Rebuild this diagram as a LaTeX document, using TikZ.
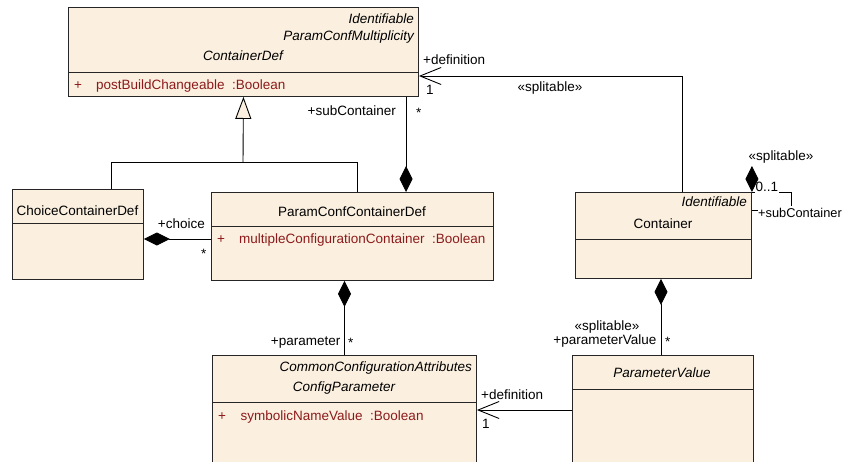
\documentclass[tikz,border=0pt]{standalone}
\usepackage{fontspec}
\setmainfont{Liberation Sans}
\usetikzlibrary{arrows.meta}
\definecolor{clsfill}{RGB}{251,240,224}
\definecolor{attrcol}{RGB}{140,26,26}
\begin{document}
\begin{tikzpicture}[x=1pt,y=-1pt,
  every node/.style={font=\fontsize{13.5}{16}\selectfont, inner sep=0pt},
  cls/.style={draw=black!85, fill=clsfill, line width=0.9pt, anchor=north west},
  lw/.style={draw=black!85, line width=0.9pt},
  conn/.style={draw=black, line width=0.9pt},
  comp/.style={conn, -{Diamond[length=26pt,width=13pt]}},
  assoc/.style={conn, -{Straight Barb[length=21pt,width=17pt,line width=0.9pt]}},
  gen/.style={conn, -{Triangle[length=22pt,width=16pt,fill=clsfill]}},
  attr/.style={text=attrcol},
  wl/.style={fill=white, inner xsep=0.5pt, inner ysep=1.5pt}
]
\useasboundingbox (0,0) rectangle (845,461);
\clip (0,0) rectangle (845,461);

% ---------- class boxes ----------
\node[cls, minimum width=350pt, minimum height=89pt] (cd) at (68,7) {};
\draw[lw] (cd.west |- 0,72) -- (cd.east |- 0,72);
\node[anchor=base east] (cdst1) at (414,23) {\itshape Identifiable};
\node[anchor=base east] (cdst2) at (414,40) {\itshape ParamConfMultiplicity};
\node[anchor=base] (cdname) at (243,60) {\itshape ContainerDef};
\node[anchor=base west, attr] (cdplus) at (74,89) {+};
\node[anchor=base west, attr] (cdattr) at (96,89) {postBuildChangeable~~:Boolean};

\node[cls, minimum width=131pt, minimum height=90pt] (ccd) at (12,189) {};
\draw[lw] (ccd.west |- 0,223) -- (ccd.east |- 0,223);
\node[anchor=base] (ccdname) at (77.5,215) {ChoiceContainerDef};

\node[cls, minimum width=282pt, minimum height=88pt] (pccd) at (211,192) {};
\draw[lw] (pccd.west |- 0,226) -- (pccd.east |- 0,226);
\node[anchor=base] (pccdname) at (352,216) {ParamConfContainerDef};
\node[anchor=base west, attr] (pccdplus) at (217,243) {+};
\node[anchor=base west, attr] (pccdattr) at (239,243) {multipleConfigurationContainer~~:Boolean};

\node[cls, minimum width=176pt, minimum height=86pt] (c) at (575,192) {};
\draw[lw] (c.west |- 0,239) -- (c.east |- 0,239);
\node[anchor=base east] (cst) at (747,206) {\itshape Identifiable};
\node[anchor=base] (cname) at (663,228) {Container};

\node[cls, minimum width=264pt, minimum height=120pt] (cp) at (212,355) {};
\draw[lw] (cp.west |- 0,402) -- (cp.east |- 0,402);
\node[anchor=base east] (cpst) at (472,371) {\itshape CommonConfigurationAttributes};
\node[anchor=base] (cpname) at (344,391) {\itshape ConfigParameter};
\node[anchor=base west, attr] (cpplus) at (218,420) {+};
\node[anchor=base west, attr] (cpattr) at (240.5,420) {symbolicNameValue~~:Boolean};

\node[cls, minimum width=181pt, minimum height=120pt] (pv) at (572,355) {};
\draw[lw] (pv.west |- 0,389) -- (pv.east |- 0,389);
\node[anchor=base] (pvname) at (662,377) {\itshape ParameterValue};

% ---------- generalization ----------
\coordinate (gL) at (111,162);
\coordinate (gR) at (357,162);
\coordinate (gM) at (243,162);
\draw[conn] (ccd.north -| gL) -- (gL) -- (gR) -- (pccd.north -| gR);
\draw[gen] (gM) -- (cd.south);

% ---------- compositions ----------
\draw[comp] (cd.south -| 406,0) -- (pccd.north -| 406,0);
\node[anchor=base east] (l1) at (396,115) {+subContainer};
\node[anchor=base west] (l2) at (416,117) {*};

\draw[comp] (pccd.west |- 0,239) -- (ccd.east |- 0,239);
\node[anchor=base east] (l3) at (205,228) {+choice};
\node[anchor=base west] (l4) at (201,258) {*};

\draw[comp] (cp.north -| 344.5,0) -- (pccd.south -| 344.5,0);
\node[anchor=base east] (l5) at (340.5,345) {+parameter};
\node[anchor=base west] (l6) at (348,347) {*};

\draw[comp] (pv.north -| 661,0) -- (c.south -| 661,0);
\node[anchor=base] (l7) at (607,330) {«splitable»};
\node[anchor=base east] (l8) at (656.5,344) {+parameterValue};
\node[anchor=base west] (l9) at (665,346) {*};

% ---------- associations ----------
\draw[assoc] (c.north -| 682,0) |- (cd.east |- 0,76);
\node[anchor=base west] (l10) at (423,64) {+definition};
\node[anchor=base west] (l11) at (426,94) {1};
\node[anchor=base] (l12) at (550,91) {«splitable»};

\draw[assoc] (pv.west |- 0,410) -- (cp.east |- 0,410);
\node[anchor=base west] (l13) at (481,399) {+definition};
\node[anchor=base west] (l14) at (482,428) {1};

% ---------- self composition on Container ----------
\draw[conn] (c.north east) -- ++(40,0) |- (c.east |- 0,210);
\node[anchor=base west, wl] (l15) at (755,191) {0..1};
\node[anchor=base west, wl, font=\fontsize{12.8}{15}\selectfont] (l16) at (757.5,217) {+subContainer};
\node[anchor=base] (l17) at (781,160) {«splitable»};
\draw[comp] (c.north east) ++(0,-3) coordinate (dtop) (dtop) -- (c.north east);
\end{tikzpicture}
\end{document}
